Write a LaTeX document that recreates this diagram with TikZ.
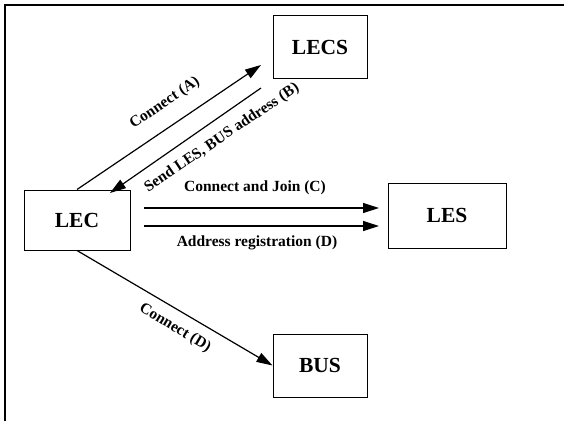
\documentclass[tikz,border=0pt]{standalone}
\usepackage{fontspec}
\setmainfont{Liberation Serif}
\usetikzlibrary{arrows.meta}
\tikzset{
  box/.style={draw, line width=1pt, minimum width=#1, inner sep=0pt, font=\fontsize{21.5}{23}\selectfont\bfseries},
  lbl/.style={font=\fontsize{15.5}{17}\selectfont\bfseries, inner sep=0pt},
  arr/.style={line width=1.2pt, -{Triangle[length=16pt,width=10pt]}},
}
\begin{document}
\begin{tikzpicture}[x=1pt,y=1pt]
\useasboundingbox (0,0) rectangle (564,421);
\draw[line width=2pt] (5,0) -- (5,416) -- (564,416);
\node[box=94pt, minimum height=63pt] (LECS) at (320,373.5) {LECS};
\node[box=106pt, minimum height=60pt] (LEC) at (77,201) {LEC};
\node[box=118pt, minimum height=65pt] (LES) at (447,205.5) {LES};
\node[box=94pt, minimum height=63pt] (BUS) at (320,55.5) {BUS};
\coordinate (aend) at (261,356);
\coordinate (bstart) at (261,333);
\coordinate (bend) at (110,228);
\coordinate (cstart) at (144,213);
\coordinate (cend) at (379,213);
\coordinate (dstart) at (144,195);
\coordinate (dend) at (379,195);
\draw[arr] (LEC.north) -- (aend);
\draw[arr] (bstart) -- (bend);
\draw[arr] (cstart) -- (cend);
\draw[arr] (dstart) -- (dend);
\draw[arr] (LEC.south) -- (BUS.west);
\node[lbl, rotate=34] (la) at (165,318) {Connect (A)};
\node[lbl, rotate=34] (lb) at (222,283) {Send LES, BUS address (B)};
\node[lbl] (lc) at (255,233) {Connect and Join (C)};
\node[lbl] (ld) at (257,178) {Address registration (D)};
\node[lbl, rotate=-31] (le) at (175,93) {Connect (D)};
\end{tikzpicture}
\end{document}
